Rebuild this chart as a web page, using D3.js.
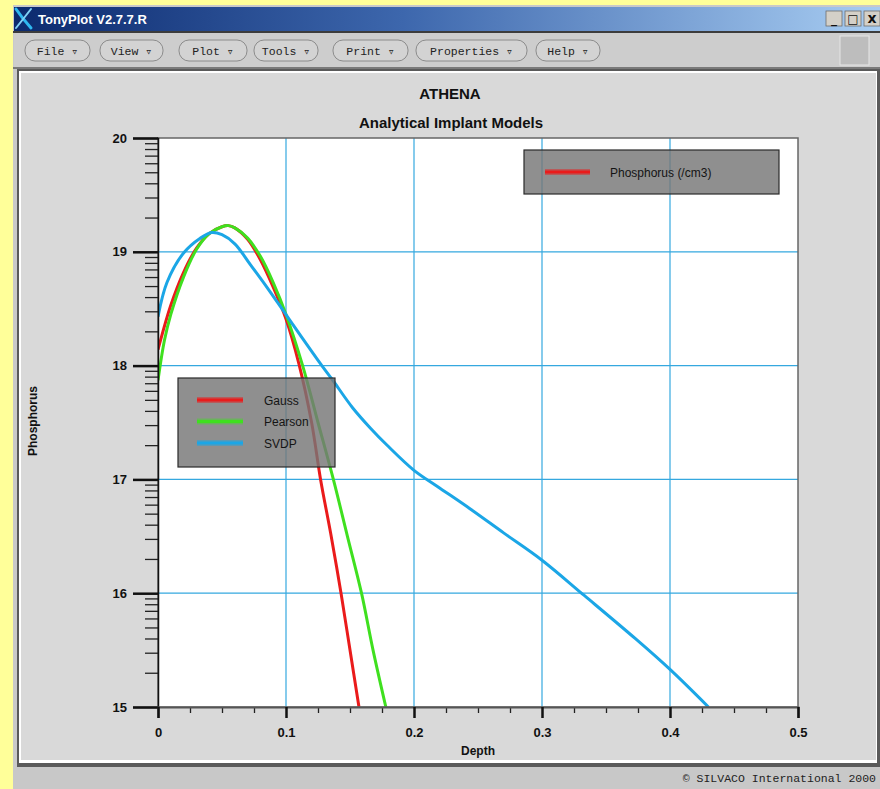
<!DOCTYPE html>
<html><head><meta charset="utf-8">
<script src="https://cdn.jsdelivr.net/npm/d3@7"></script>
<style>
body{margin:0;background:#ffff99;}
svg{display:block;}
</style>
</head><body>
<svg id="c" width="880" height="789"></svg>
<script>
// ---------------- data ----------------
const chartTitle = "ATHENA";
const chartSubtitle = "Analytical Implant Models";
const xLabel = "Depth";
const yLabel = "Phosphorus";
const xTicks = [0, 0.1, 0.2, 0.3, 0.4, 0.5];
const yTicks = [15, 16, 17, 18, 19, 20];
const seriesNames = ["Gauss", "Pearson", "SVDP"];
const quantityName = "Phosphorus (/cm3)";

const gaussDepth = [0, 0.01, 0.02, 0.03, 0.04, 0.05, 0.055, 0.06, 0.07, 0.08, 0.09, 0.10, 0.11, 0.12, 0.127, 0.135, 0.143, 0.150, 0.157];
const gaussConc  = [18.14, 18.53, 18.82, 19.03, 19.16, 19.22, 19.23, 19.21, 19.11, 18.93, 18.69, 18.41, 18.02, 17.50, 17.00, 16.52, 16.00, 15.50, 15.00];

const pearsonDepth = [0, 0.005, 0.01, 0.02, 0.03, 0.04, 0.05, 0.055, 0.06, 0.07, 0.08, 0.09, 0.10, 0.113, 0.125, 0.137, 0.148, 0.159, 0.168, 0.178];
const pearsonConc  = [17.87, 18.22, 18.45, 18.78, 19.02, 19.16, 19.22, 19.23, 19.21, 19.12, 18.96, 18.73, 18.45, 18.00, 17.50, 17.00, 16.50, 16.00, 15.50, 15.00];

const svdpDepth = [0, 0.007, 0.02, 0.033, 0.042, 0.05, 0.06, 0.072, 0.085, 0.098, 0.111, 0.128, 0.136, 0.152, 0.166, 0.179, 0.2, 0.218, 0.244, 0.27, 0.3, 0.333, 0.373, 0.4, 0.43];
const svdpConc  = [18.43, 18.73, 18.99, 19.12, 19.17, 19.15, 19.07, 18.89, 18.69, 18.48, 18.27, 18.00, 17.88, 17.63, 17.45, 17.30, 17.08, 16.94, 16.74, 16.53, 16.29, 15.98, 15.60, 15.33, 15.00];

const minorDecadeSteps = [2, 3, 4, 5, 6, 7, 8, 9];
const xMinorStep = 0.025;

const menuLabels = ["File", "View", "Plot", "Tools", "Print", "Properties", "Help"];
const windowTitle = "TonyPlot V2.7.7.R";
const statusText = "\u00A9 SILVACO International 2000";

// ---------------- layout ----------------
const W = 880, H = 789;
const svg = d3.select("#c");
const defs = svg.append("defs");

const grad = defs.append("linearGradient").attr("id", "tb").attr("x1", 0).attr("x2", 1).attr("y1", 0).attr("y2", 0);
grad.append("stop").attr("offset", "0%").attr("stop-color", "#0c2a6e");
grad.append("stop").attr("offset", "45%").attr("stop-color", "#3d67ad");
grad.append("stop").attr("offset", "100%").attr("stop-color", "#a8cdf2");

// window frame
svg.append("rect").attr("x", 13).attr("y", 5).attr("width", W - 13).attr("height", H - 5).attr("fill", "#c9c9c9");
// title bar
svg.append("rect").attr("x", 14).attr("y", 7).attr("width", W - 14).attr("height", 24).attr("fill", "url(#tb)");
// X icon
const ico = svg.append("g").attr("stroke-linecap", "round");
ico.append("path").attr("d", "M16,9 Q22,18 31,28").attr("stroke", "#2fb8f0").attr("stroke-width", 3).attr("fill", "none");
ico.append("path").attr("d", "M31,9 Q24,18 16,28").attr("stroke", "#7fd0f6").attr("stroke-width", 2).attr("fill", "none");
svg.append("text").attr("x", 38).attr("y", 24).text(windowTitle)
  .attr("font-family", "Liberation Sans, Arial, sans-serif").attr("font-weight", "bold").attr("font-size", 13).attr("fill", "#ffffff");
// window buttons
const wb = [[826, "_"], [845, "\u25A1"], [864, "x"]];
wb.forEach(([bx, g]) => {
  svg.append("rect").attr("x", bx).attr("y", 11).attr("width", 16).attr("height", 15).attr("fill", "#d4d0c8").attr("stroke", "#6e6e6e").attr("stroke-width", 0.8);
  svg.append("text").attr("x", bx + 8).attr("y", 23).attr("text-anchor", "middle").text(g)
    .attr("font-family", "DejaVu Sans, sans-serif").attr("font-size", g === "x" ? 14 : 12).attr("font-weight", "bold").attr("fill", "#111");
});
// separator
svg.append("rect").attr("x", 13).attr("y", 31).attr("width", W - 13).attr("height", 2).attr("fill", "#3c3c3c");
// menu bar
svg.append("rect").attr("x", 14).attr("y", 33).attr("width", W - 14).attr("height", 35).attr("fill", "#cdcdcd");
const menuX = [[25, 90], [100, 163], [179, 247], [254, 318], [333, 408], [416, 527], [536, 600]];
menuLabels.forEach((m, i) => {
  const [a, b] = menuX[i];
  svg.append("rect").attr("x", a).attr("y", 40).attr("width", b - a).attr("height", 21).attr("rx", 10)
    .attr("fill", "#d3d3d3").attr("stroke", "#8c8c8c").attr("stroke-width", 1);
  svg.append("text").attr("x", (a + b) / 2).attr("y", 55).attr("text-anchor", "middle")
    .attr("font-family", "Liberation Mono, DejaVu Sans Mono, monospace").attr("font-size", 11.5).attr("fill", "#222")
    .text(m + " \u25BF");
});
svg.append("rect").attr("x", 840).attr("y", 36).attr("width", 29).attr("height", 29).attr("fill", "#bdbdbd").attr("stroke", "#e6e6e6");
svg.append("rect").attr("x", 13).attr("y", 67).attr("width", W - 13).attr("height", 2).attr("fill", "#7a7a7a");

// panel
svg.append("rect").attr("x", 17).attr("y", 69).attr("width", W - 17).attr("height", 698).attr("fill", "#5a5a5a");
svg.append("rect").attr("x", 19).attr("y", 71).attr("width", 858).attr("height", 692).attr("fill", "#ffffff");
svg.append("rect").attr("x", 21).attr("y", 73).attr("width", 855).attr("height", 687).attr("fill", "#d9d9d9");
// status bar
svg.append("rect").attr("x", 13).attr("y", 768).attr("width", W - 13).attr("height", H - 768).attr("fill", "#c8c8c8");
svg.append("text").attr("x", 876).attr("y", 782).attr("text-anchor", "end").text(statusText)
  .attr("font-family", "Liberation Mono, DejaVu Sans Mono, monospace").attr("font-size", 11.5).attr("fill", "#222");

// titles
const titleFont = "Liberation Sans, Arial, sans-serif";
svg.append("text").attr("x", 450).attr("y", 99).attr("text-anchor", "middle").text(chartTitle)
  .attr("font-family", titleFont).attr("font-weight", "bold").attr("font-size", 15).attr("fill", "#111");
svg.append("text").attr("x", 451).attr("y", 128).attr("text-anchor", "middle").text(chartSubtitle)
  .attr("font-family", titleFont).attr("font-weight", "bold").attr("font-size", 15).attr("fill", "#111");

// ---------------- plot ----------------
const x = d3.scaleLinear().domain([0, 0.5]).range([158, 798]);
const y = d3.scaleLinear().domain([15, 20]).range([707, 138]);

svg.append("rect").attr("x", x(0)).attr("y", y(20)).attr("width", x(0.5) - x(0)).attr("height", y(15) - y(20)).attr("fill", "#ffffff");

defs.append("clipPath").attr("id", "clip").append("rect")
  .attr("x", x(0)).attr("y", y(20)).attr("width", x(0.5) - x(0)).attr("height", y(15) - y(20));

// grid
const grid = svg.append("g").attr("stroke", "#35a8df").attr("stroke-width", 1.2);
xTicks.filter(t => t > 0 && t < 0.5).forEach(t => {
  grid.append("line").attr("x1", x(t)).attr("x2", x(t)).attr("y1", y(20)).attr("y2", y(15));
});
yTicks.filter(t => t > 15 && t < 20).forEach(t => {
  grid.append("line").attr("x1", x(0)).attr("x2", x(0.5)).attr("y1", y(t)).attr("y2", y(t));
});

// series
const colors = ["#ea1b1b", "#3fe01f", "#1ba6e6"];
const series = [
  d3.zip(gaussDepth, gaussConc),
  d3.zip(pearsonDepth, pearsonConc),
  d3.zip(svdpDepth, svdpConc)
];
const line = d3.line().x(d => x(d[0])).y(d => y(d[1])).curve(d3.curveCatmullRom.alpha(0.5));
const lines = svg.append("g").attr("clip-path", "url(#clip)");
series.forEach((s, i) => {
  lines.append("path").datum(s).attr("d", line).attr("fill", "none")
    .attr("stroke", colors[i]).attr("stroke-width", 3).attr("stroke-linejoin", "round");
});

// frame
svg.append("rect").attr("x", x(0)).attr("y", y(20)).attr("width", x(0.5) - x(0)).attr("height", y(15) - y(20))
  .attr("fill", "none").attr("stroke", "#666").attr("stroke-width", 1.5);

// axes
const tickFont = "Liberation Sans, Arial, sans-serif";
const yMinor = [];
yTicks.slice(0, -1).forEach(t => minorDecadeSteps.forEach(k => yMinor.push(t + Math.log10(k))));
const yAxisMinor = svg.append("g").attr("transform", `translate(${x(0)},0)`)
  .call(d3.axisLeft(y).tickValues(yMinor).tickSize(13).tickFormat(""));
yAxisMinor.selectAll(".tick line").attr("stroke", "#222").attr("stroke-width", 1.3);
yAxisMinor.select(".domain").remove();

const yAxis = svg.append("g").attr("transform", `translate(${x(0)},0)`)
  .call(d3.axisLeft(y).tickValues(yTicks).tickSize(25).tickPadding(6).tickFormat(d3.format("d")));
yAxis.select(".domain").attr("stroke", "#111").attr("stroke-width", 1.5);
yAxis.selectAll(".tick line").attr("stroke", "#111").attr("stroke-width", 2.5);
yAxis.selectAll(".tick text").attr("font-family", tickFont).attr("font-weight", "bold").attr("font-size", 13).attr("fill", "#111");

const xMinor = d3.range(0, 0.5 + 1e-9, xMinorStep).filter(v => Math.abs(v * 10 - Math.round(v * 10)) > 1e-6);
const xAxisMinor = svg.append("g").attr("transform", `translate(0,${y(15)})`)
  .call(d3.axisBottom(x).tickValues(xMinor).tickSize(6).tickFormat(""));
xAxisMinor.selectAll(".tick line").attr("stroke", "#222").attr("stroke-width", 1.3);
xAxisMinor.select(".domain").remove();

const xAxis = svg.append("g").attr("transform", `translate(0,${y(15)})`)
  .call(d3.axisBottom(x).tickValues(xTicks).tickSize(11).tickPadding(10).tickFormat(d3.format("")));
xAxis.select(".domain").attr("stroke", "#555").attr("stroke-width", 2);
xAxis.selectAll(".tick line").attr("stroke", "#111").attr("stroke-width", 2.5);
xAxis.selectAll(".tick text").attr("font-family", tickFont).attr("font-weight", "bold").attr("font-size", 13).attr("fill", "#111");

svg.append("text").attr("x", 478).attr("y", 755).attr("text-anchor", "middle").text(xLabel)
  .attr("font-family", tickFont).attr("font-weight", "bold").attr("font-size", 12).attr("fill", "#111");
svg.append("text").attr("transform", "translate(37,421) rotate(-90)").attr("text-anchor", "middle").text(yLabel)
  .attr("font-family", tickFont).attr("font-weight", "bold").attr("font-size", 12).attr("fill", "#111");

// legends
function legendBox(bx, by, bw, bh) {
  svg.append("rect").attr("x", bx).attr("y", by).attr("width", bw).attr("height", bh)
    .attr("fill", "#767676").attr("fill-opacity", 0.82).attr("stroke", "#2a2a2a").attr("stroke-width", 1.2);
}
function legendSample(x1, x2, ly, c) {
  svg.append("line").attr("x1", x1).attr("x2", x2).attr("y1", ly).attr("y2", ly)
    .attr("stroke", c).attr("stroke-opacity", 0.45).attr("stroke-width", 6);
  svg.append("line").attr("x1", x1).attr("x2", x2).attr("y1", ly).attr("y2", ly)
    .attr("stroke", c).attr("stroke-width", 3);
}
legendBox(178, 378, 157, 89);
seriesNames.forEach((n, i) => {
  const ly = 400 + i * 21.5;
  legendSample(197, 243, ly, colors[i]);
  svg.append("text").attr("x", 264).attr("y", ly + 4.5).text(n)
    .attr("font-family", tickFont).attr("font-size", 12).attr("fill", "#141414");
});
legendBox(524, 150, 255, 44);
legendSample(545, 590, 172, colors[0]);
svg.append("text").attr("x", 610).attr("y", 177).text(quantityName)
  .attr("font-family", tickFont).attr("font-size", 12).attr("fill", "#141414");
</script>
</body></html>
